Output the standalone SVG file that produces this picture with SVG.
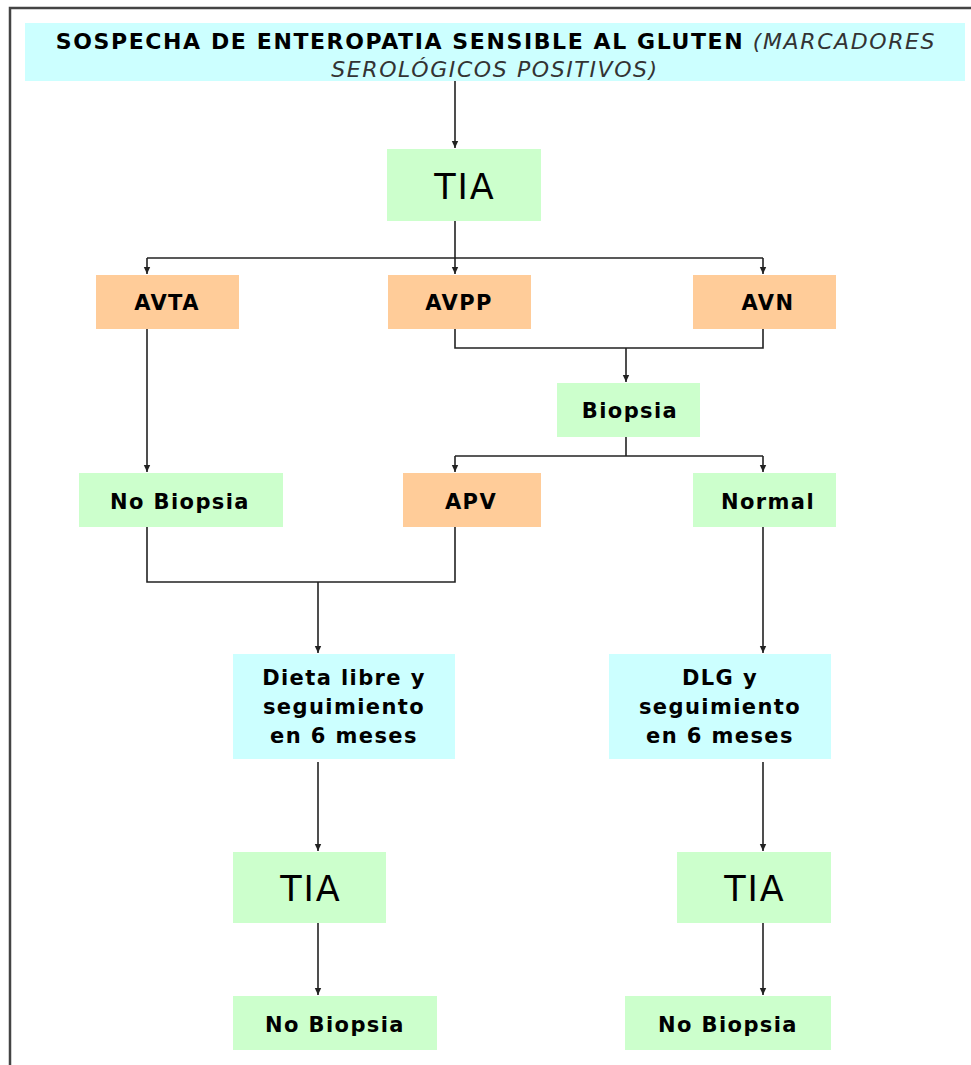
<svg xmlns="http://www.w3.org/2000/svg" width="971" height="1065" viewBox="0 0 971 1065">
<style>
.cy{fill:#CCFFFF}
.gr{fill:#CCFFCC}
.or{fill:#FFCC99}
.t{font-family:"DejaVu Sans","Verdana",sans-serif;font-weight:bold;font-size:21px;letter-spacing:1.4px;fill:#000;text-anchor:middle}
.big{font-family:"DejaVu Sans","Verdana",sans-serif;font-weight:normal;font-size:35px;letter-spacing:2px;fill:#000;text-anchor:middle}
.h{font-family:"DejaVu Sans","Verdana",sans-serif;font-size:22px;letter-spacing:1.6px;fill:#000}
.hi{font-style:italic;font-weight:normal;fill:#333}
.c{fill:none;stroke:#222;stroke-width:1.6}
</style>
<defs>
<marker id="ar" markerUnits="userSpaceOnUse" markerWidth="8" markerHeight="8" refX="7" refY="4" orient="auto">
<path d="M0,0.8 L7,4 L0,7.2 z" fill="#222"/>
</marker>
</defs>
<rect x="0" y="0" width="971" height="1065" fill="#FFFFFF"/>
<g id="frame">
<path d="M10,1065 V8 H971" fill="none" stroke="#444" stroke-width="2.5"/>
</g>
<g id="header">
<rect class="cy" x="25" y="23" width="940" height="58"/>
<text class="h" y="49" text-anchor="middle" x="496"><tspan font-weight="bold">SOSPECHA DE ENTEROPATIA SENSIBLE AL GLUTEN</tspan><tspan class="hi"> (MARCADORES</tspan></text>
<text class="h hi" x="495" y="77" text-anchor="middle">SEROLÓGICOS POSITIVOS)</text>
</g>
<g id="tia1">
<rect class="gr" x="387" y="149" width="154" height="72"/>
<text class="big" x="465" y="199">TIA</text>
</g>
<g id="avta">
<rect class="or" x="96" y="275" width="143" height="54"/>
<text class="t" x="167" y="310">AVTA</text>
</g>
<g id="avpp">
<rect class="or" x="388" y="275" width="143" height="54"/>
<text class="t" x="459" y="310">AVPP</text>
</g>
<g id="avn">
<rect class="or" x="693" y="275" width="143" height="54"/>
<text class="t" x="768" y="310">AVN</text>
</g>
<g id="biopsia">
<rect class="gr" x="557" y="383" width="143" height="54"/>
<text class="t" x="630" y="418">Biopsia</text>
</g>
<g id="nobiopsia1">
<rect class="gr" x="79" y="473" width="204" height="54"/>
<text class="t" x="180" y="509">No Biopsia</text>
</g>
<g id="apv">
<rect class="or" x="403" y="473" width="138" height="54"/>
<text class="t" x="471" y="509">APV</text>
</g>
<g id="normal">
<rect class="gr" x="693" y="473" width="143" height="54"/>
<text class="t" x="768" y="509">Normal</text>
</g>
<g id="dieta">
<rect class="cy" x="233" y="654" width="222" height="105"/>
<text class="t" x="344" y="685">Dieta libre y</text>
<text class="t" x="344" y="714">seguimiento</text>
<text class="t" x="344" y="743">en 6 meses</text>
</g>
<g id="dlg">
<rect class="cy" x="609" y="654" width="222" height="105"/>
<text class="t" x="720" y="685">DLG y</text>
<text class="t" x="720" y="714">seguimiento</text>
<text class="t" x="720" y="743">en 6 meses</text>
</g>
<g id="tia2">
<rect class="gr" x="233" y="852" width="153" height="71"/>
<text class="big" x="311" y="901">TIA</text>
</g>
<g id="tia3">
<rect class="gr" x="677" y="852" width="154" height="71"/>
<text class="big" x="755" y="901">TIA</text>
</g>
<g id="nobiopsia2">
<rect class="gr" x="233" y="996" width="204" height="54"/>
<text class="t" x="335" y="1032">No Biopsia</text>
</g>
<g id="nobiopsia3">
<rect class="gr" x="625" y="996" width="206" height="54"/>
<text class="t" x="728" y="1032">No Biopsia</text>
</g>
<g id="connectors">
<path class="c" d="M455,81 V148" marker-end="url(#ar)"/>
<path class="c" d="M455,221 V274" marker-end="url(#ar)"/>
<path class="c" d="M147,258 H763"/>
<path class="c" d="M147,258 V274" marker-end="url(#ar)"/>
<path class="c" d="M763,258 V274" marker-end="url(#ar)"/>
<path class="c" d="M455,329 V348 H763 V329"/>
<path class="c" d="M626,348 V382" marker-end="url(#ar)"/>
<path class="c" d="M147,329 V472" marker-end="url(#ar)"/>
<path class="c" d="M626,437 V456"/>
<path class="c" d="M455,456 H763"/>
<path class="c" d="M455,456 V472" marker-end="url(#ar)"/>
<path class="c" d="M763,456 V472" marker-end="url(#ar)"/>
<path class="c" d="M147,527 V582 H455 V527"/>
<path class="c" d="M318,582 V653" marker-end="url(#ar)"/>
<path class="c" d="M763,527 V653" marker-end="url(#ar)"/>
<path class="c" d="M318,762 V851" marker-end="url(#ar)"/>
<path class="c" d="M763,762 V851" marker-end="url(#ar)"/>
<path class="c" d="M318,923 V995" marker-end="url(#ar)"/>
<path class="c" d="M763,923 V995" marker-end="url(#ar)"/>
</g>
</svg>
